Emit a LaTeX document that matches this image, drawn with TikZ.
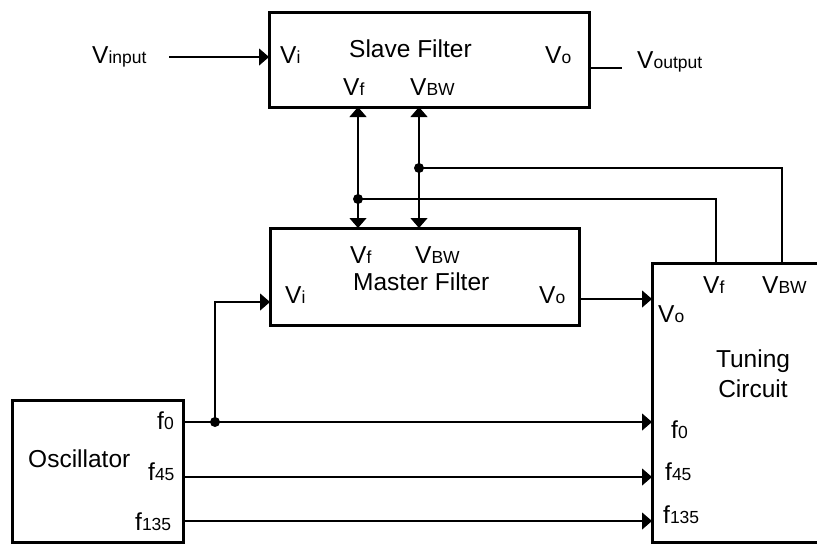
\documentclass[tikz,border=0pt]{standalone}
\usepackage{fontspec}
\setmainfont{Liberation Sans}
\usetikzlibrary{arrows.meta}
\newcommand\lo[1]{{\fontsize{17.5}{20}\selectfont #1}}
\begin{document}
\begin{tikzpicture}[x=1pt,y=-1pt,
 box/.style={draw, line width=3pt, rectangle, outer sep=0pt, inner sep=0pt},
 lbl/.style={anchor=base west, inner sep=0pt, font=\fontsize{24.5}{29}\selectfont},
 clbl/.style={lbl, anchor=base},
 wire/.style={line width=1.3pt},
 arr/.style={wire, -{Triangle[length=10pt,width=17pt]}},
 darr/.style={wire, {Triangle[length=10pt,width=17pt]}-{Triangle[length=10pt,width=17pt]}},
 dot/.style={circle, fill, inner sep=0pt, minimum size=10pt}]
\useasboundingbox (0,0) rectangle (817,544);
\clip (0,0) rectangle (817,544);
% boxes
\node[box, minimum width=320pt, minimum height=95pt] (slave) at (429,59.5) {};
\node[box, minimum width=309pt, minimum height=97pt] (master) at (424.5,276.5) {};
\node[box, minimum width=180pt, minimum height=279pt] (tuning) at (742,402.5) {};
\node[box, minimum width=171pt, minimum height=142pt] (osc) at (97.5,471) {};
% dots
\node[dot] (df) at (358,199) {};
\node[dot] (dbw) at (419,168) {};
\node[dot] (d0) at (215,422) {};
% labels
\node[lbl] (tvinput) at (92,63) {V\lo{input}};
\node[lbl] (tsvi) at (280,63) {V\lo{i}};
\node[lbl] (tslave) at (349,57) {Slave Filter};
\node[lbl] (tsvf) at (343,95) {V\lo{f}};
\node[lbl] (tsvbw) at (410,95) {V\lo{BW}};
\node[lbl] (tsvo) at (545,63) {V\lo{o}};
\node[lbl] (tvoutput) at (637,68) {V\lo{output}};
\node[lbl] (tmvf) at (350,263) {V\lo{f}};
\node[lbl] (tmvbw) at (415,263) {V\lo{BW}};
\node[lbl] (tmaster) at (353,290) {Master Filter};
\node[lbl] (tmvi) at (285,303) {V\lo{i}};
\node[lbl] (tmvo) at (539,303) {V\lo{o}};
\node[lbl] (ttvo) at (658,322) {V\lo{o}};
\node[lbl] (ttvf) at (703,293) {V\lo{f}};
\node[lbl] (ttvbw) at (762,293) {V\lo{BW}};
\node[clbl] (ttun1) at (753,367) {Tuning};
\node[clbl] (ttun2) at (753,397) {Circuit};
\node[lbl] (ttf0) at (671,438) {f\lo{0}};
\node[lbl] (ttf45) at (665,480) {f\lo{45}};
\node[lbl] (ttf135) at (663,523) {f\lo{135}};
\node[lbl] (tosc) at (28,467) {Oscillator};
\node[lbl] (tof0) at (157,429) {f\lo{0}};
\node[lbl] (tof45) at (148,480) {f\lo{45}};
\node[lbl] (tof135) at (135,530) {f\lo{135}};
% connectors
\coordinate (vin) at (169,57);
\draw[arr] (vin) -- (slave.west |- vin);
\coordinate (vout) at (622,68);
\draw[wire] (slave.east |- vout) -- (vout);
\draw[darr] (slave.south -| df) -- (master.north -| df);
\draw[darr] (slave.south -| dbw) -- (master.north -| dbw);
\coordinate (tvf) at (716,0);
\coordinate (tvbw) at (782,0);
\draw[wire] (df.center) -| (tuning.north -| tvf);
\draw[wire] (dbw.center) -| (tuning.north -| tvbw);
\coordinate (mvo) at (0,299);
\draw[arr] (master.east |- mvo) -- (tuning.west |- mvo);
\coordinate (mvi) at (0,302);
\draw[arr] (d0.center) |- (master.west |- mvi);
\coordinate (lf0) at (0,422);
\coordinate (lf45) at (0,477);
\coordinate (lf135) at (0,521);
\draw[arr] (osc.east |- lf0) -- (tuning.west |- lf0);
\draw[arr] (osc.east |- lf45) -- (tuning.west |- lf45);
\draw[arr] (osc.east |- lf135) -- (tuning.west |- lf135);
\end{tikzpicture}
\end{document}
